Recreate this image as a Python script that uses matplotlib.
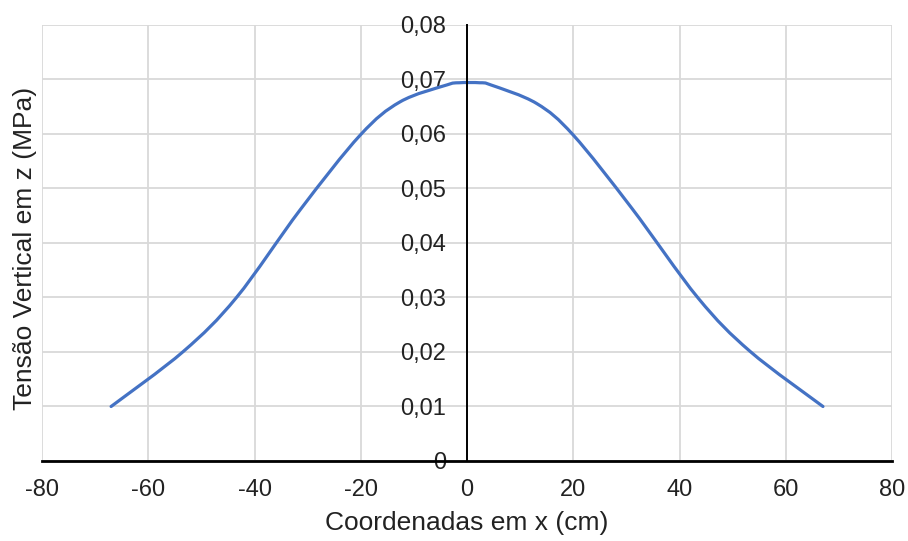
import numpy as np
import matplotlib.pyplot as plt
from matplotlib.path import Path
from matplotlib.patches import PathPatch
from matplotlib.ticker import FuncFormatter, MultipleLocator

plt.rcParams['font.family'] = ['Liberation Sans', 'DejaVu Sans']
plt.rcParams['axes.unicode_minus'] = False

# valores
x_cm = [-67, -53.4, -43.4, -31.4, -20.1, -12.6, -3.8, -1.5,
        2.4, 4.5, 13.1, 20, 31, 43.5, 53.3, 67]
tensao = [0.0100, 0.0201, 0.0300, 0.0461, 0.0598, 0.0659, 0.0690, 0.0694,
          0.0694, 0.0690, 0.0656, 0.0598, 0.0464, 0.0299, 0.0201, 0.0100]

xticks = [-80, -60, -40, -20, 0, 20, 40, 60, 80]


def smooth_path(xs, ys):
    # linha suavizada (tipo Excel): bezier cubica passando pelos pontos
    p = np.column_stack([xs, ys])
    verts = [p[0]]
    codes = [Path.MOVETO]
    n = len(p)
    for i in range(n - 1):
        p0 = p[i - 1] if i > 0 else p[i]
        p3 = p[i + 2] if i + 2 < n else p[i + 1]
        c1 = p[i] + (p[i + 1] - p0) / 6
        c2 = p[i + 1] - (p3 - p[i]) / 6
        verts += [c1, c2, p[i + 1]]
        codes += [Path.CURVE4] * 3
    return Path(verts, codes)


fig = plt.figure(figsize=(9.08, 5.41), dpi=100)
ax = fig.add_axes([0.0463, 0.1479, 0.9361, 0.8059])

ax.add_patch(PathPatch(smooth_path(x_cm, tensao), facecolor='none',
                       edgecolor='#4472C4', lw=2.3, capstyle='round',
                       joinstyle='round', zorder=3))

ax.set_xlim(-80, 80)
ax.set_ylim(0, 0.08)
ax.set_xticks(xticks)
ax.yaxis.set_major_locator(MultipleLocator(0.01))
ax.yaxis.set_major_formatter(FuncFormatter(
    lambda v, p: '0' if abs(v) < 1e-9 else ('%.2f' % v).replace('.', ',')))

ax.grid(True, color='#d9d9d9', lw=1.3, zorder=0)
ax.set_axisbelow(True)

for s in ['top', 'right']:
    ax.spines[s].set_visible(False)
ax.spines['left'].set_position(('data', 0))
ax.spines['left'].set_color('black')
ax.spines['left'].set_linewidth(1.4)
ax.spines['left'].set_zorder(4)
ax.spines['bottom'].set_color('black')
ax.spines['bottom'].set_linewidth(2.0)

ax.tick_params(axis='both', length=0, labelsize=17, labelcolor='#222222')
ax.tick_params(axis='y', pad=15)
ax.tick_params(axis='x', pad=13)

ax.set_xlabel('Coordenadas em x (cm)', fontsize=19, color='#222222', labelpad=7)
fig.text(25 / 908, 1 - 248 / 541, 'Tensão Vertical em z (MPa)', fontsize=19,
         color='#222222', rotation=90, ha='center', va='center')

fig.savefig('out.png', dpi=100)
